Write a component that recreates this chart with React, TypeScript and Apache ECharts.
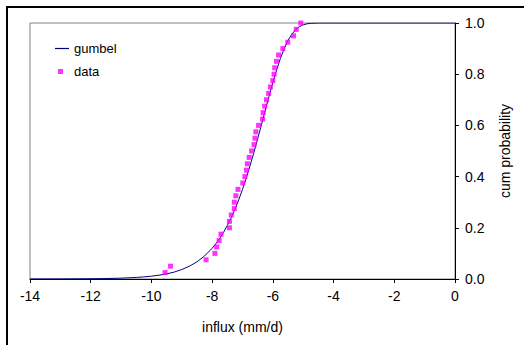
import React, { useEffect, useRef } from "react";
import * as echarts from "echarts";

const curveX = [-14, -13, -12, -11.5, -11, -10.5, -10.25, -10, -9.75, -9.5, -9.25, -9, -8.75, -8.5, -8.25, -8, -7.875, -7.75, -7.625, -7.5, -7.375, -7.25, -7.125, -7, -6.875, -6.75, -6.625, -6.5, -6.375, -6.25, -6.125, -6, -5.875, -5.75, -5.625, -5.5, -5.375, -5.25, -5.125, -5, -4.875, -4.75, -4.5, -4, 0];
const curveY = [0.0001, 0.0003, 0.001, 0.0018, 0.0033, 0.006, 0.0082, 0.011, 0.015, 0.02, 0.027, 0.037, 0.05, 0.067, 0.09, 0.12, 0.138, 0.159, 0.182, 0.209, 0.239, 0.272, 0.309, 0.35, 0.395, 0.443, 0.494, 0.548, 0.603, 0.659, 0.714, 0.768, 0.817, 0.862, 0.9, 0.932, 0.956, 0.974, 0.9857, 0.9929, 0.9968, 0.9988, 0.9999, 1.0, 1.0];

const dataX = [-9.55, -9.37, -8.2, -7.91, -7.85, -7.77, -7.71, -7.43, -7.43, -7.37, -7.27, -7.27, -7.22, -7.15, -6.99, -6.92, -6.87, -6.84, -6.78, -6.7, -6.62, -6.59, -6.56, -6.47, -6.34, -6.32, -6.27, -6.21, -6.14, -6.08, -6.0, -5.96, -5.94, -5.88, -5.81, -5.67, -5.51, -5.32, -5.23, -5.08];
const dataY = [0.025, 0.05, 0.075, 0.1, 0.125, 0.15, 0.175, 0.2, 0.225, 0.25, 0.275, 0.3, 0.325, 0.35, 0.375, 0.4, 0.425, 0.45, 0.475, 0.5, 0.525, 0.55, 0.575, 0.6, 0.625, 0.65, 0.675, 0.7, 0.725, 0.75, 0.775, 0.8, 0.825, 0.85, 0.875, 0.9, 0.925, 0.95, 0.975, 1.0];

const xTicks = { min: -14, max: 0, interval: 2 };
const yTicks = { min: 0, max: 1, interval: 0.2 };

const FONT = "'Liberation Sans', Arial, sans-serif";

export default function App() {
  const ref = useRef<HTMLDivElement>(null);
  useEffect(() => {
    if (!ref.current) return;
    const chart = echarts.init(ref.current, null, { renderer: "svg" });
    const curve = curveX.map((x, i) => [x, curveY[i]]);
    const pts = dataX.map((x, i) => [x, dataY[i]]);
    chart.setOption({
      animation: false,
      backgroundColor: "#fff",
      textStyle: { fontFamily: FONT, color: "#000" },
      graphic: [
        {
          type: "rect",
          z: -10,
          shape: { x: 7, y: 7, width: 700, height: 500 },
          style: { fill: "none", stroke: "#000", lineWidth: 2 },
          silent: true,
        },
      ],
      grid: {
        left: 30,
        right: 69,
        top: 23,
        bottom: 66,
        show: true,
        borderColor: "#808080",
        borderWidth: 1,
        backgroundColor: "transparent",
      },
      legend: [
        {
          data: [{ name: "gumbel", icon: "rect" }],
          left: 50,
          top: 37,
          itemWidth: 14,
          itemHeight: 1.2,
          textStyle: { fontFamily: FONT, fontSize: 13, color: "#000" },
          selectedMode: false,
        },
        {
          data: [{ name: "data", icon: "rect" }],
          left: 53,
          top: 60,
          itemWidth: 5,
          itemHeight: 5,
          textStyle: { fontFamily: FONT, fontSize: 13, color: "#000", padding: [0, 0, 0, 6] },
          selectedMode: false,
        },
      ],
      xAxis: {
        type: "value",
        min: xTicks.min,
        max: xTicks.max,
        interval: xTicks.interval,
        name: "influx (mm/d)",
        nameLocation: "middle",
        nameGap: 41,
        nameTextStyle: { fontFamily: FONT, fontSize: 14, color: "#000" },
        axisLine: { show: true, onZero: false, lineStyle: { color: "#000", width: 1 } },
        axisTick: { show: true, inside: false, length: 4, lineStyle: { color: "#000" } },
        axisLabel: { fontFamily: FONT, fontSize: 14, color: "#000", margin: 10 },
        splitLine: { show: false },
      },
      yAxis: {
        type: "value",
        position: "right",
        min: yTicks.min,
        max: yTicks.max,
        interval: yTicks.interval,
        name: "cum probability",
        nameLocation: "middle",
        nameRotate: 90,
        nameGap: 43,
        nameTextStyle: { fontFamily: FONT, fontSize: 14, color: "#000" },
        axisLine: { show: true, onZero: false, lineStyle: { color: "#000", width: 1 } },
        axisTick: { show: true, inside: false, length: 4, lineStyle: { color: "#000" } },
        axisLabel: {
          fontFamily: FONT,
          fontSize: 14,
          color: "#000",
          margin: 10,
          formatter: (v: number) => v.toFixed(1),
        },
        splitLine: { show: false },
      },
      series: [
        {
          name: "gumbel",
          type: "line",
          data: curve,
          symbol: "none",
          smooth: false,
          color: "#000080",
          lineStyle: { color: "#000080", width: 1 },
          z: 2,
        },
        {
          name: "data",
          type: "scatter",
          data: pts,
          symbol: "rect",
          symbolSize: 5,
          color: "#FF00FF",
          itemStyle: { color: "#FF00FF" },
          z: 3,
        },
      ],
    });
    return () => chart.dispose();
  }, []);
  return (
    <div
      ref={ref}
      style={{ position: "absolute", left: 0, top: 0, width: 524, height: 345 }}
    />
  );
}
